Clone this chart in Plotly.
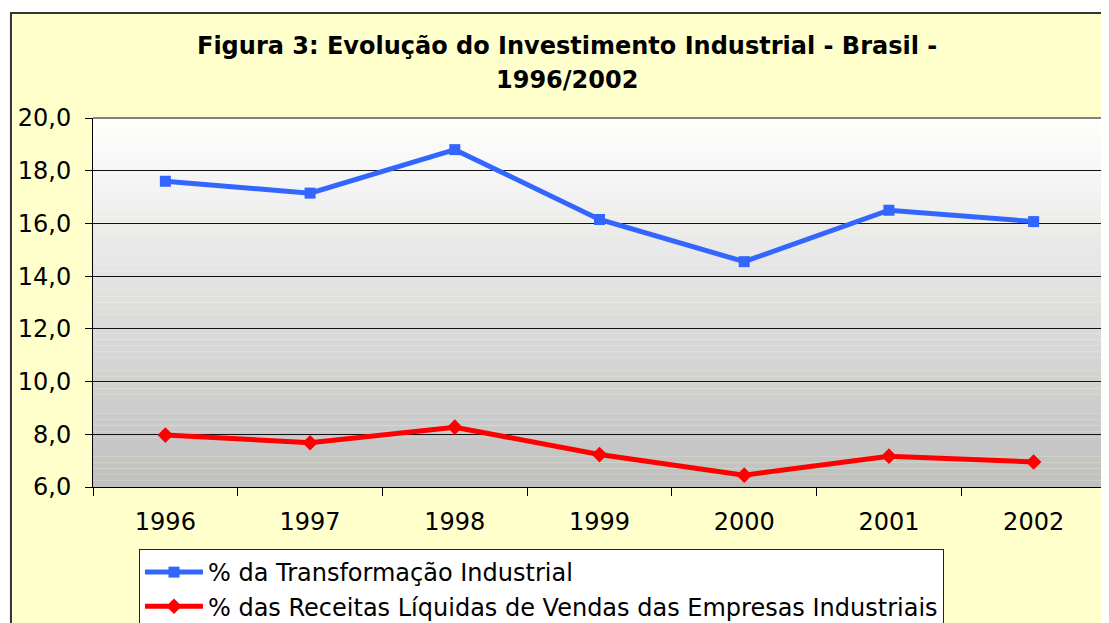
import plotly.graph_objects as go

years = ["1996", "1997", "1998", "1999", "2000", "2001", "2002"]
transformacao = [17.6, 17.15, 18.8, 16.15, 14.55, 16.5, 16.07]
receitas = [7.97, 7.68, 8.27, 7.23, 6.45, 7.17, 6.95]
name_blue = "% da Transformação Industrial"
name_red = "% das Receitas Líquidas de Vendas das Empresas Industriais"
title_line1 = "Figura 3: Evolução do Investimento Industrial - Brasil -"
title_line2 = "1996/2002"

FONT = "DejaVu Sans"

fig = go.Figure()
fig.add_trace(go.Scatter(
    x=years, y=transformacao, name=name_blue, mode="lines+markers",
    line=dict(color="#3366FF", width=5),
    marker=dict(symbol="square", size=11, color="#3366FF"),
))
fig.add_trace(go.Scatter(
    x=years, y=receitas, name=name_red, mode="lines+markers",
    line=dict(color="#FF0000", width=5),
    marker=dict(symbol="diamond", size=12, color="#FF0000"),
))

shapes = []
# outer chart frame
shapes.append(dict(type="rect", xref="paper", yref="paper",
                   x0=-0.081, x1=1.05, y0=-0.6, y1=1.2846,
                   fillcolor="#FFFFCC", line=dict(color="#333333", width=2),
                   layer="below"))
# gradient plot background
n = 60
for i in range(n):
    f = (i + 0.5) / n
    v = int(round(255 - 64 * f))
    shapes.append(dict(type="rect", xref="x domain", yref="y domain",
                       x0=0, x1=1, y0=1 - (i + 1) / n, y1=1 - i / n,
                       fillcolor=f"rgb({v},{v},{v})", line=dict(width=0),
                       layer="below"))
# top and right plot border (gray)
shapes.append(dict(type="line", xref="x domain", yref="y domain",
                   x0=0, x1=1, y0=1, y1=1, line=dict(color="#808080", width=2), layer="above"))
shapes.append(dict(type="line", xref="x domain", yref="y domain",
                   x0=1, x1=1, y0=0, y1=1, line=dict(color="#808080", width=2), layer="above"))

annotations = [
    dict(text=f"<b>{title_line1}</b>", xref="paper", yref="paper", x=0.468, y=1.195,
         xanchor="center", yanchor="middle", showarrow=False,
         font=dict(family=FONT, size=24, color="black")),
    dict(text=f"<b>{title_line2}</b>", xref="paper", yref="paper", x=0.468, y=1.103,
         xanchor="center", yanchor="middle", showarrow=False,
         font=dict(family=FONT, size=24, color="black")),
]

fig.update_layout(
    width=1101, height=615,
    margin=dict(l=85, r=3, t=110, b=136, pad=0),
    paper_bgcolor="white",
    plot_bgcolor="rgba(0,0,0,0)",
    separators=",.",
    font=dict(family=FONT, size=24, color="black"),
    shapes=shapes,
    annotations=annotations,
    showlegend=True,
    legend=dict(xref="paper", yref="container", x=0.0454, y=0.1203,
                xanchor="left", yanchor="top",
                bgcolor="white", bordercolor="#222222", borderwidth=1,
                font=dict(family=FONT, size=24, color="black"),
                itemwidth=58, tracegroupgap=0),
)
fig.update_xaxes(type="category", range=[-0.5, 6.5], tickson="boundaries",
                 ticks="outside", ticklen=8, tickcolor="black", tickwidth=1,
                 showline=True, linecolor="black", linewidth=1, showgrid=False,
                 ticklabelstandoff=13, tickfont=dict(family=FONT, size=24, color="black"))
fig.update_yaxes(range=[6, 20], dtick=2, tick0=6, tickformat=".1f",
                 ticks="outside", ticklen=7, tickcolor="black", tickwidth=1,
                 showline=True, linecolor="black", linewidth=1,
                 showgrid=True, gridcolor="#111111", gridwidth=1, zeroline=False,
                 ticklabelstandoff=9, tickfont=dict(family=FONT, size=24, color="black"))

fig.write_html("out.html")
